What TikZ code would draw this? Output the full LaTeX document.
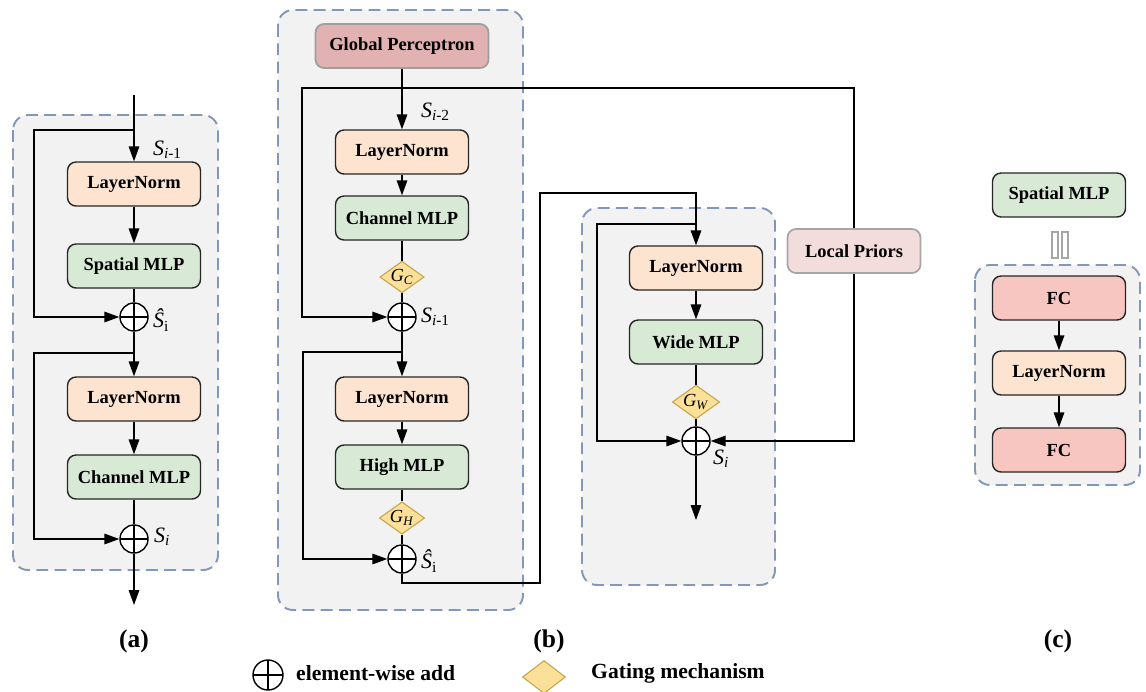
\documentclass[tikz,border=0pt]{standalone}
\usepackage{fontspec}
\setmainfont{Liberation Serif}
\usetikzlibrary{arrows.meta,shapes.geometric,positioning}

\definecolor{normfill}{HTML}{FCE4D0}
\definecolor{mlpfill}{HTML}{D8EAD5}
\definecolor{gpfill}{HTML}{E2B1B1}
\definecolor{priorfill}{HTML}{F3DCDC}
\definecolor{fcfill}{HTML}{F8C6C1}
\definecolor{gatefill}{HTML}{FBE09A}
\definecolor{gateline}{HTML}{C8A346}
\definecolor{panelline}{HTML}{8597B8}
\definecolor{panelfill}{HTML}{F2F2F2}

\newcommand{\Ssub}[1]{\textit{S}\textsubscript{#1}}
\newcommand{\Gsub}[1]{\textit{G}\textsubscript{\textit{#1}}}

\begin{document}
\begin{tikzpicture}[x=0.02cm, y=-0.02cm]
    % Define styles
    \tikzstyle{block}=[draw=black!85, line width=0.8pt, rounded corners=0.17cm, minimum width=2.66cm, minimum height=0.88cm, inner sep=0pt, font=\fontsize{10.5}{12}\selectfont\bfseries]
    \tikzstyle{norm}=[block, fill=normfill]
    \tikzstyle{mlp}=[block, fill=mlpfill]
    \tikzstyle{fc}=[block, fill=fcfill]
    \tikzstyle{prior}=[block, draw=gray!70, line width=1pt]
    \tikzstyle{gate}=[diamond, aspect=1.4, draw=gateline, fill=gatefill, line width=0.6pt, minimum width=0.84cm, minimum height=0.6cm, inner sep=0pt, font=\fontsize{10.5}{11}\selectfont]
    \tikzstyle{addop}=[circle, draw, line width=0.8pt, fill=white, minimum size=0.56cm, inner sep=0pt,
        path picture={\draw[line width=0.8pt] (path picture bounding box.north) -- (path picture bounding box.south)
                      (path picture bounding box.west) -- (path picture bounding box.east);}]
    \tikzstyle{panel}=[draw=panelline, fill=panelfill, line width=1.1pt, dash pattern=on 6.8pt off 3.6pt, rounded corners=0.3cm]
    \tikzstyle{wire}=[line width=0.8pt]
    \tikzstyle{flow}=[wire, -{Triangle[length=8.5pt,width=6pt]}]
    \tikzstyle{state}=[anchor=west, inner sep=1pt, font=\fontsize{12.5}{13}\selectfont]
    \tikzstyle{caption}=[font=\fontsize{14.5}{16}\selectfont\bfseries]
    \tikzstyle{legend}=[anchor=west, font=\fontsize{12.3}{13}\selectfont\bfseries]

    \useasboundingbox (0,0) rectangle (1146,691);

    % --- 1. Dashed panels ---
    \draw[panel] (13,115) rectangle (218,570);
    \draw[panel] (278,10) rectangle (523,610);
    \draw[panel] (582,208) rectangle (775,585);
    \draw[panel] (975,265) rectangle (1140,485);

    % --- 2. Panel (a) ---
    \coordinate (a_in) at (134,95);
    \coordinate (a_s1) at (134,130);
    \coordinate (a_s2) at (134,353);
    \coordinate (a_out) at (134,605);
    \node[norm] (a_ln1) at (134,184) {LayerNorm};
    \node[mlp] (a_mlp1) at (134,266) {Spatial MLP};
    \node[addop] (a_add1) at (134,317) {};
    \node[norm] (a_ln2) at (134,399) {LayerNorm};
    \node[mlp] (a_mlp2) at (134,477) {Channel MLP};
    \node[addop] (a_add2) at (134,539) {};

    \node[state] (a_lab1) at (151,150) {\Ssub{\textit{i}-1}};
    \node[state] (a_lab2) at (151,320) {\textit{Ŝ}\textsubscript{i}};
    \node[state] (a_lab3) at (152,537) {\Ssub{\textit{i}}};

    \draw[flow] (a_in) -- (a_ln1);
    \draw[flow] (a_s1) -- ++(-100,0) |- (a_add1);
    \draw[flow] (a_ln1) -- (a_mlp1);
    \draw[wire] (a_mlp1) -- (a_add1);
    \draw[flow] (a_add1) -- (a_ln2);
    \draw[flow] (a_s2) -- ++(-100,0) |- (a_add2);
    \draw[flow] (a_ln2) -- (a_mlp2);
    \draw[wire] (a_mlp2) -- (a_add2);
    \draw[flow] (a_add2) -- (a_out);

    % --- 3. Panel (b) ---
    \coordinate (b_s0) at (402,88);
    \coordinate (b_s1) at (402,352);
    \coordinate (b_s2) at (696,224);
    \coordinate (b_c1) at (540,583);
    \coordinate (b_c2) at (540,193);
    \coordinate (b_out) at (696,520);
    \node[block, fill=gpfill, draw=gray!75, line width=1pt, minimum width=3.46cm] (b_gp) at (402,46) {Global Perceptron};
    \node[norm] (b_ln1) at (402,152) {LayerNorm};
    \node[mlp] (b_mlp1) at (402,218) {Channel MLP};
    \node[gate] (b_g1) at (402,277) {\Gsub{C}};
    \node[addop] (b_add1) at (402,317) {};
    \node[norm] (b_ln2) at (402,399) {LayerNorm};
    \node[mlp] (b_mlp2) at (402,467) {High MLP};
    \node[gate] (b_g2) at (402,518) {\Gsub{H}};
    \node[addop] (b_add2) at (402,559) {};
    \node[norm] (b_ln3) at (696,268) {LayerNorm};
    \node[mlp] (b_mlp3) at (696,342) {Wide MLP};
    \node[gate] (b_g3) at (696,402) {\Gsub{W}};
    \node[addop] (b_add3) at (696,441) {};
    \node[prior, fill=priorfill] (b_lp) at (854,251) {Local Priors};

    \node[state] (b_lab1) at (419,112) {\Ssub{\textit{i}-2}};
    \node[state] (b_lab2) at (419,317) {\Ssub{\textit{i}-1}};
    \node[state] (b_lab3) at (419,561) {\textit{Ŝ}\textsubscript{i}};
    \node[state] (b_lab4) at (711,459) {\Ssub{\textit{i}}};

    \draw[flow] (b_gp) -- (b_ln1);
    \draw[flow] (b_s0) -- ++(-100,0) |- (b_add1);
    \draw[wire] (b_s0) -| (b_lp);
    \draw[flow] (b_lp) |- (b_add3);
    \draw[flow] (b_ln1) -- (b_mlp1);
    \draw[wire] (b_mlp1) -- (b_g1) -- (b_add1);
    \draw[flow] (b_add1) -- (b_ln2);
    \draw[flow] (b_s1) -- ++(-99,0) |- (b_add2);
    \draw[flow] (b_ln2) -- (b_mlp2);
    \draw[wire] (b_mlp2) -- (b_g2) -- (b_add2);
    \draw[flow] (b_add2) |- (b_c1) -- (b_c2) -| (b_ln3);
    \draw[flow] (b_s2) -- ++(-99,0) |- (b_add3);
    \draw[flow] (b_ln3) -- (b_mlp3);
    \draw[wire] (b_mlp3) -- (b_g3) -- (b_add3);
    \draw[flow] (b_add3) -- (b_out);

    % --- 4. Panel (c) ---
    \node[mlp] (c_mlp) at (1059,195) {Spatial MLP};
    \draw[draw=gray!70, fill=white, line width=0.6pt] (1052,232) rectangle (1058,258);
    \draw[draw=gray!70, fill=white, line width=0.6pt] (1062,232) rectangle (1068,258);
    \node[fc] (c_fc1) at (1059,298) {FC};
    \node[norm] (c_ln) at (1059,373) {LayerNorm};
    \node[fc] (c_fc2) at (1059,450) {FC};
    \draw[flow] (c_fc1) -- (c_ln);
    \draw[flow] (c_ln) -- (c_fc2);

    % --- 5. Captions and legend ---
    \node[caption] (cap_a) at (134,641) {(a)};
    \node[caption] (cap_b) at (549,641) {(b)};
    \node[caption] (cap_c) at (1058,641) {(c)};

    \node[addop, minimum size=0.6cm] (lg_add) at (268,675) {};
    \node[legend] (lg_addtxt) at (290,673) {element-wise add};
    \node[gate, minimum width=0.86cm, minimum height=0.66cm] (lg_gate) at (544,677) {};
    \node[legend] (lg_gatetxt) at (585,673) {Gating mechanism};
\end{tikzpicture}
\end{document}
